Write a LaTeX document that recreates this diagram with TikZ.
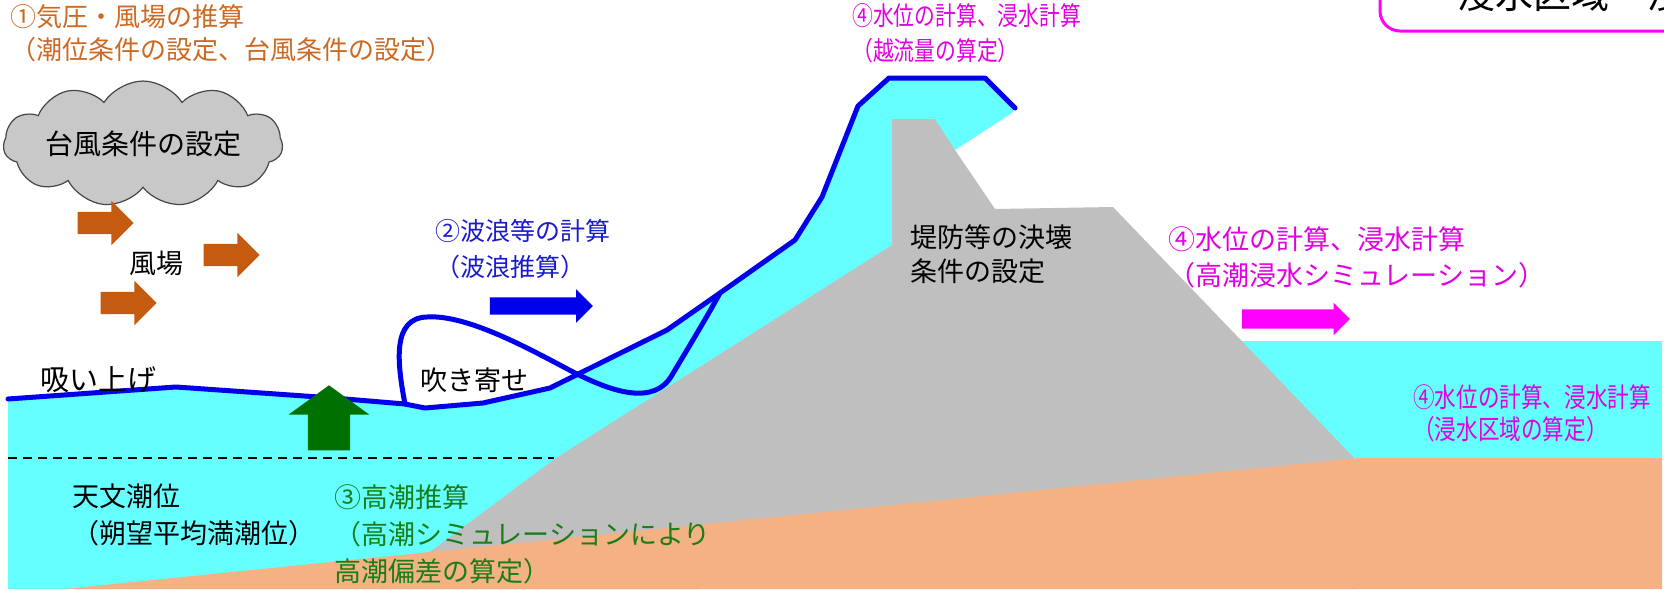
\documentclass[tikz,border=0pt]{standalone}
\usepackage{fontspec}
\setmainfont{Noto Sans CJK JP}
\newfontfamily\narrowjp{Noto Sans CJK JP}[FakeStretch=0.8]
\usetikzlibrary{shapes.arrows,shapes.symbols,positioning}

\definecolor{sea}{RGB}{102,255,255}
\definecolor{dike}{RGB}{191,191,191}
\definecolor{ground}{RGB}{244,177,131}
\definecolor{wave}{RGB}{0,0,235}
\definecolor{windtxt}{RGB}{205,105,35}
\definecolor{windarr}{RGB}{197,90,17}
\definecolor{wavetxt}{RGB}{25,25,205}
\definecolor{surgegreen}{RGB}{0,112,0}
\definecolor{surgetxt}{RGB}{25,125,25}
\definecolor{floodtxt}{RGB}{225,0,225}
\definecolor{floodarr}{RGB}{255,0,255}
\definecolor{cloudfill}{RGB}{200,200,200}
\definecolor{cloudline}{RGB}{70,70,70}

\tikzstyle{txt}=[inner sep=0pt, align=left, anchor=north west]
\tikzstyle{blockarrow}=[single arrow, inner sep=0pt, minimum width=0pt, text depth=0pt]
\tikzstyle{surface}=[line width=5pt, draw=wave, line join=round, line cap=round]

\begin{document}
\begin{tikzpicture}[x=1pt,y=-1pt]
    \useasboundingbox (0,0) rectangle (1664,589);
    \clip (0,0) rectangle (1664,589);

    % water, dike and ground
    \fill[sea] (8,399) -- (176,387) -- (333,398) -- (405,404) -- (425,408) -- (483,403)
        -- (550,388) -- (667,330) -- (720,293) -- (795,240) -- (822,197) -- (858,106)
        -- (889,78) -- (985,78) -- (1015,108) -- (1012,113) -- (955,150) -- (900,400)
        -- (700,589) -- (8,589) -- cycle;
    \fill[sea] (1236,341) rectangle (1662,458);
    \fill[dike] (380,589) -- (556,458) -- (892,245) -- (892,119) -- (935,119) -- (955,150)
        -- (995,209) -- (1113,207) -- (1358,462) -- (1358,589) -- cycle;
    \fill[ground] (64,589) -- (1358,458) -- (1662,458) -- (1662,589) -- cycle;

    % astronomical tide level
    \coordinate (tideL) at (8,458);
    \coordinate (tideR) at (554,458);
    \draw[line width=1.6pt, dash pattern=on 9pt off 6pt] (tideL) -- (tideR);

    % sea surface and wave run-up
    \draw[surface] (8,399) -- (176,387) -- (333,398) -- (405,404) -- (425,408) -- (483,403)
        -- (550,388) -- (667,330) -- (720,293) -- (795,240) -- (822,197) -- (858,106)
        -- (889,78) -- (985,78) -- (1015,108);
    \draw[surface] (405,404) .. controls (397,362) and (392,318) .. (427,317)
        .. controls (470,314) and (540,355) .. (577,374)
        .. controls (615,393) and (655,405) .. (672,375)
        .. controls (690,345) and (708,315) .. (720,293);

    % typhoon and wind field
    \node[cloud, cloud puffs=11, cloud puff arc=115, aspect=3.2, draw=cloudline,
          fill=cloudfill, line width=1.2pt, minimum width=262pt, minimum height=78pt,
          inner sep=0pt, font=\fontsize{28}{28}\selectfont] (typhoon) at (143,144) {台風条件の設定};
    \node[blockarrow, fill=windarr, minimum height=56pt, text height=22pt,
          single arrow head extend=11pt] (wind1) at (100,223) {};
    \node[blockarrow, fill=windarr, minimum height=56pt, text height=22pt,
          single arrow head extend=11pt] (wind2) at (226,255) {};
    \node[blockarrow, fill=windarr, minimum height=56pt, text height=22pt,
          single arrow head extend=11pt] (wind3) at (123,303) {};
    \node[font=\fontsize{27}{27}\selectfont, inner sep=0pt] (windfield) at (156,263) {風場};

    % wave, surge and flood arrows
    \node[blockarrow, fill=wave, minimum height=103pt, text height=17pt,
          single arrow head extend=8pt] (wavearr) at (537,306) {};
    \node[blockarrow, fill=floodarr, minimum height=108pt, text height=19pt,
          single arrow head extend=6.5pt] (floodarr) at (1291,319) {};
    \node[blockarrow, fill=surgegreen, rotate=90, minimum height=65pt, text height=42pt,
          single arrow head extend=19pt, single arrow tip angle=108] (surgearr) at (329,425.5) {};

    % labels
    \node[txt, text=windtxt, font=\fontsize{26}{33}\selectfont] (step1) at (10,4)
        {①気圧・風場の推算\\（潮位条件の設定、台風条件の設定）};
    \node[txt, text=wavetxt, font=\fontsize{25}{36}\selectfont] (step2) at (435,219)
        {②波浪等の計算\\（波浪推算）};
    \node[txt, text=surgetxt, font=\fontsize{27}{37}\selectfont] (step3) at (334,484)
        {③高潮推算\\（高潮シミュレーションにより\\高潮偏差の算定）};
    \node[txt, text=floodtxt, font=\narrowjp\fontsize{26}{35}\selectfont] (step4top) at (852,3)
        {④水位の計算、浸水計算\\（越流量の算定）};
    \node[txt, text=floodtxt, font=\fontsize{27}{36}\selectfont] (step4mid) at (1168,226)
        {④水位の計算、浸水計算\\（高潮浸水シミュレーション）};
    \node[txt, text=floodtxt, font=\narrowjp\fontsize{27}{32}\selectfont] (step4low) at (1413,384)
        {④水位の計算、浸水計算\\（浸水区域の算定）};
    \node[txt, font=\fontsize{27}{34}\selectfont] (breach) at (910,224)
        {堤防等の決壊\\条件の設定};
    \node[txt, font=\fontsize{27}{37}\selectfont] (tide) at (72,484)
        {天文潮位\\（朔望平均満潮位）};
    \node[anchor=west, inner sep=0pt, font=\fontsize{29}{29}\selectfont] (suction) at (40,380) {吸い上げ};
    \node[anchor=west, inner sep=0pt, font=\fontsize{27}{27}\selectfont] (setup) at (420,380) {吹き寄せ};

    % result box, running off the page
    \draw[floodarr, line width=3pt, rounded corners=20pt] (1380,-60) rectangle (1720,31);
    \node[anchor=base west, inner sep=0pt, font=\fontsize{38}{38}\selectfont] (areanote) at (1419,9)
        {・浸水区域・浸水深};
\end{tikzpicture}
\end{document}
